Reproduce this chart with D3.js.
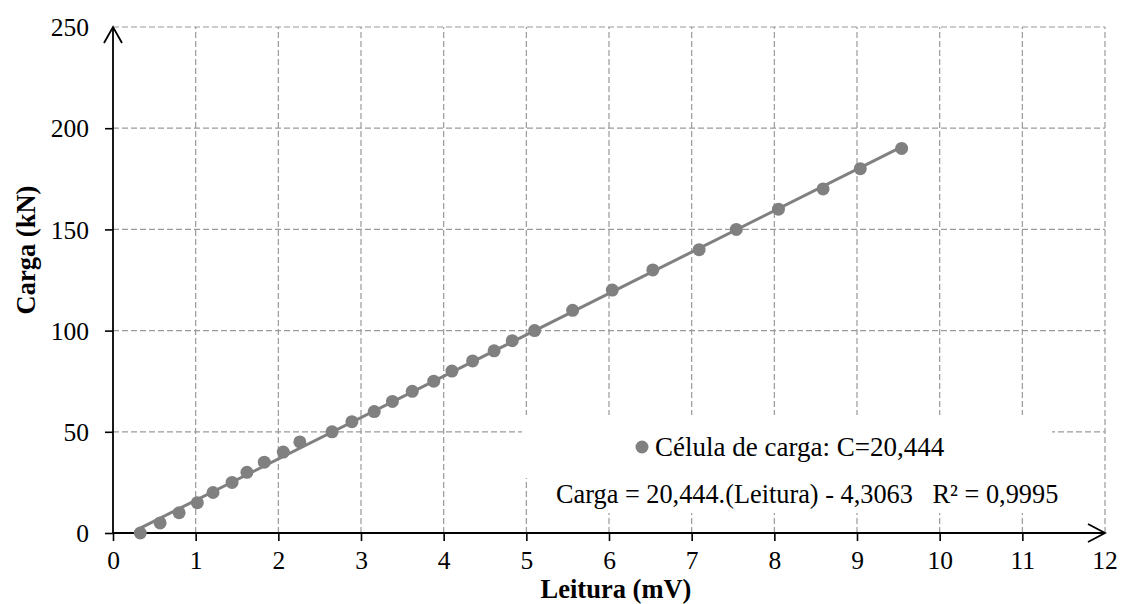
<!DOCTYPE html>
<html>
<head>
<meta charset="utf-8">
<script src="https://cdn.jsdelivr.net/npm/d3@7"></script>
<style>
  html, body { margin: 0; padding: 0; background: #fff; }
  svg { display: block; }
  text { font-family: "Liberation Serif", "Times New Roman", serif; fill: #000; }
</style>
</head>
<body>
<svg id="chart" width="1121" height="604"></svg>
<script>
// ---- data ----
const leitura = [0.33, 0.57, 0.80, 1.02, 1.21, 1.44, 1.62, 1.83, 2.06, 2.26,
                 2.65, 2.89, 3.16, 3.38, 3.62, 3.88, 4.10, 4.35, 4.61, 4.83,
                 5.10, 5.56, 6.04, 6.53, 7.09, 7.54, 8.05, 8.59, 9.04, 9.54];
const carga   = [0, 5, 10, 15, 20, 25, 30, 35, 40, 45,
                 50, 55, 60, 65, 70, 75, 80, 85, 90, 95,
                 100, 110, 120, 130, 140, 150, 160, 170, 180, 190];
const xTicks = [0, 1, 2, 3, 4, 5, 6, 7, 8, 9, 10, 11, 12];
const yTicks = [0, 50, 100, 150, 200, 250];
const slope = 20.444, intercept = -4.3063;
const legendLabel = "Célula de carga: C=20,444";
const equationLabel = "Carga = 20,444.(Leitura) - 4,3063   R² = 0,9995";
const xTitle = "Leitura (mV)";
const yTitle = "Carga (kN)";

// ---- layout ----
const svg = d3.select("#chart");
const x = d3.scaleLinear().domain([0, 12]).range([113, 1105]);
const y = d3.scaleLinear().domain([0, 250]).range([533, 27]);
const gray = "#808080";
const gridColor = "#9a9a9a";
const fsTick = 25.5, fsLegend = 27, fsEq = 26.3, fsTitle = 26.5;

// gridlines
const grid = svg.append("g");
grid.selectAll("line.v").data(xTicks.filter(d => d > 0)).join("line")
  .attr("x1", d => x(d)).attr("x2", d => x(d))
  .attr("y1", y(0)).attr("y2", y(250))
  .attr("stroke", gridColor).attr("stroke-width", 1.2).attr("stroke-dasharray", "6,3");
grid.selectAll("line.h").data(yTicks.filter(d => d > 0)).join("line")
  .attr("x1", x(0)).attr("x2", x(12))
  .attr("y1", d => y(d)).attr("y2", d => y(d))
  .attr("stroke", gridColor).attr("stroke-width", 1.2).attr("stroke-dasharray", "6,3");

// legend / label white boxes (cover grid)
svg.append("rect").attr("x", 522).attr("y", 415).attr("width", 530).attr("height", 63).attr("fill", "#fff");
svg.append("rect").attr("x", 530).attr("y", 476).attr("width", 532).attr("height", 37).attr("fill", "#fff");

// axes
const xAxis = d3.axisBottom(x).tickValues(xTicks.slice(0, -1)).tickSize(8).tickFormat(d3.format("d"));
const yAxis = d3.axisLeft(y).tickValues(yTicks.slice(0, -1)).tickSize(8).tickFormat(d3.format("d"));
const gx = svg.append("g").attr("transform", `translate(0,${y(0)})`).call(xAxis);
const gy = svg.append("g").attr("transform", `translate(${x(0)},0)`).call(yAxis);
[gx, gy].forEach(g => {
  g.select(".domain").remove();
  g.selectAll(".tick line").attr("stroke", "#000").attr("stroke-width", 1.6);
  g.selectAll(".tick text").style("font-family", '"Liberation Serif", serif')
    .style("font-size", fsTick + "px").attr("fill", "#000");
});
gx.selectAll(".tick text").attr("dy", null).attr("y", 36);
gy.selectAll(".tick text").attr("x", -24).attr("dy", "0.34em");
// last tick labels (at arrow ends)
svg.append("text").attr("x", x(12)).attr("y", y(0) + 36).attr("text-anchor", "middle")
  .style("font-size", fsTick + "px").text(xTicks[xTicks.length - 1]);
svg.append("text").attr("x", x(0) - 24).attr("y", y(250)).attr("dy", "0.34em").attr("text-anchor", "end")
  .style("font-size", fsTick + "px").text(yTicks[yTicks.length - 1]);

// axis lines with open arrows
svg.append("line").attr("x1", x(0)).attr("x2", x(12)).attr("y1", y(0)).attr("y2", y(0))
  .attr("stroke", "#000").attr("stroke-width", 1.8);
svg.append("line").attr("x1", x(0)).attr("x2", x(0)).attr("y1", y(0)).attr("y2", y(250))
  .attr("stroke", "#000").attr("stroke-width", 1.8);
svg.append("path").attr("d", `M${x(12) - 17},${y(0) - 9} L${x(12)},${y(0)} L${x(12) - 17},${y(0) + 9}`)
  .attr("fill", "none").attr("stroke", "#000").attr("stroke-width", 1.8);
svg.append("path").attr("d", `M${x(0) - 9},${y(250) + 16} L${x(0)},${y(250)} L${x(0) + 9},${y(250) + 16}`)
  .attr("fill", "none").attr("stroke", "#000").attr("stroke-width", 1.8);

// trend line
const xMin = d3.min(leitura), xMax = d3.max(leitura);
svg.append("line")
  .attr("x1", x(xMin)).attr("y1", y(slope * xMin + intercept))
  .attr("x2", x(xMax)).attr("y2", y(slope * xMax + intercept))
  .attr("stroke", gray).attr("stroke-width", 3);

// points
svg.append("g").selectAll("circle").data(leitura.map((v, i) => [v, carga[i]])).join("circle")
  .attr("cx", d => x(d[0])).attr("cy", d => y(d[1])).attr("r", 6.5).attr("fill", gray);

// legend
svg.append("circle").attr("cx", 642).attr("cy", 447).attr("r", 6.5).attr("fill", gray);
svg.append("text").attr("x", 655).attr("y", 456).style("font-size", fsLegend + "px").text(legendLabel);
svg.append("text").attr("x", 556).attr("y", 503).style("font-size", fsEq + "px")
  .attr("xml:space", "preserve").style("white-space", "pre").text(equationLabel);

// titles
svg.append("text").attr("x", 616).attr("y", 598.3).attr("text-anchor", "middle")
  .style("font-size", fsTitle + "px").style("font-weight", "bold").text(xTitle);
svg.append("text").attr("transform", "translate(35,250) rotate(-90)").attr("text-anchor", "middle")
  .style("font-size", fsTitle + "px").style("font-weight", "bold").text(yTitle);
</script>
</body>
</html>
